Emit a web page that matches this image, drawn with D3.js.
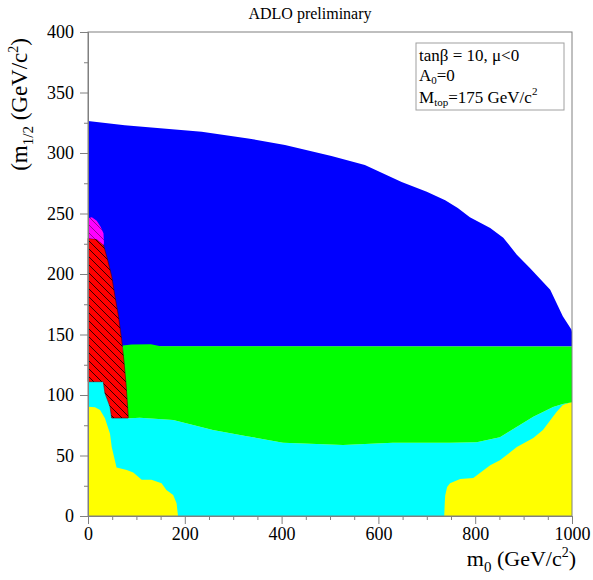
<!DOCTYPE html>
<html><head><meta charset="utf-8">
<script src="https://cdn.jsdelivr.net/npm/d3@7"></script>
<style>body{margin:0;background:#fff}svg{display:block}text{font-family:"Liberation Serif","DejaVu Serif",serif;fill:#000}</style>
</head><body><svg id="c" width="593" height="580"></svg>
<script>
// ---- data (m0, m1/2) in GeV/c^2 ----
const xTicks = [0, 200, 400, 600, 800, 1000];
const yTicks = [0, 50, 100, 150, 200, 250, 300, 350, 400];
const blueTop = [[0,326.4],[76,323],[235,317.6],[331,312],[407,306.6],[503,297.5],[572,290],[648,276],[700,268],[738,261],[764,254.5],[789,247],[831,238],[858,230],[886,216],[913,205],[955,187],[981,165],[999,154],[1000,152]];
const greenTopY = 140;
const greenTopBump = [[72,141],[90,141.8],[130,142],[150,140.3]];
const greenBottom = [[72,81],[87,80.7],[107,81.2],[176,79.3],[258,71],[328,66],[403,60.6],[527,58.7],[630,60.6],[748,60.6],[803,61],[851,65],[920,82],[961,90],[981,92.6],[1000,94]];
const cyanLeftTop = [[0,111],[31.6,111],[35,101.6],[45.5,90.3],[49,82]];
const yellowLeft = [[0,90.3],[14.5,89.8],[25,87.6],[35,80.7],[45.5,68],[49,57],[59,40],[80,38],[93.5,36],[111,30],[131,30],[152,27],[162,21.5],[176,17.4],[183,10.5],[186,0]];
const yellowRight = [[736,0],[737,10],[738,17],[742,24],[748,27],[769,30.6],[796,31.4],[831,42],[851,46],[886,57],[920,64.5],[940,71],[968,86],[981,91.7],[1000,94.5]];
const redRegion = [[0,229.5],[18,228.7],[32,224],[39,214],[49,198],[56,181],[63,165],[69.6,145.5],[74,129],[78.5,109.7],[83,83.5],[83,81],[49,81],[45.5,90.3],[35,101.6],[31.6,111],[0,111]];
const magentaRegion = [[0,229.5],[0,246],[8,247],[18,244],[26,239],[32,233.6],[33,225.6],[32,224],[18,228.7]];

const svg = d3.select("#c");
const L=88, R=572, T=32, B=516;
const x = d3.scaleLinear().domain([0,1000]).range([L,R]);
const y = d3.scaleLinear().domain([0,400]).range([B,T]);
const line = d3.line().x(d=>x(d[0])).y(d=>y(d[1]));
const poly = pts => line(pts) + "Z";

// hatch pattern
const defs = svg.append("defs");
const pat = defs.append("pattern").attr("id","hatch").attr("patternUnits","userSpaceOnUse").attr("width",8).attr("height",8);
pat.append("path").attr("d","M0,0 L8,8 M-2,6 L2,10 M6,-2 L10,2").attr("stroke","#000").attr("stroke-width",0.8);

// cyan
const cyanPts = [[0,0]].concat(cyanLeftTop, greenBottom, [[1000,0]]);
svg.append("path").attr("d",poly(cyanPts)).attr("fill","#00ffff");
// yellow
svg.append("path").attr("d",poly([[0,0]].concat(yellowLeft))).attr("fill","#ffff00");
svg.append("path").attr("d",poly(yellowRight.concat([[1000,0]]))).attr("fill","#ffff00");
// blue
svg.append("path").attr("d",poly([[0,greenTopY]].concat(blueTop,[[1000,greenTopY]]))).attr("fill","#0000ff");
// green
const greenPts = [[72,greenTopY]].concat(greenTopBump,[[1000,greenTopY]], greenBottom.slice().reverse());
svg.append("path").attr("d",poly(greenPts)).attr("fill","#00ff00");
// red + magenta hatched
svg.append("path").attr("d",poly(redRegion)).attr("fill","#ff0000").attr("stroke","#500").attr("stroke-width",0.6);
svg.append("path").attr("d",poly(redRegion)).attr("fill","url(#hatch)");
svg.append("path").attr("d",poly(magentaRegion)).attr("fill","#ff00ff");
svg.append("path").attr("d",poly(magentaRegion)).attr("fill","url(#hatch)").attr("opacity",0.5);

// frame
svg.append("rect").attr("x",L).attr("y",T).attr("width",R-L).attr("height",B-T)
  .attr("fill","none").attr("stroke","#808080").attr("stroke-width",1);

// axes
svg.append("g").attr("transform",`translate(${L},0)`)
  .call(d3.axisLeft(y).tickValues(yTicks).tickSize(8).tickPadding(6).tickFormat(d3.format("d")));
svg.append("g").attr("transform",`translate(${L},0)`)
  .call(d3.axisLeft(y).tickValues(d3.range(25,400,50)).tickSize(4).tickFormat(""));
svg.append("g").attr("transform",`translate(0,${B})`)
  .call(d3.axisBottom(x).tickValues(xTicks).tickSize(8).tickPadding(3).tickFormat(d3.format("d")));
svg.append("g").attr("transform",`translate(0,${B})`)
  .call(d3.axisBottom(x).tickValues(d3.range(50,1000,50).filter(v=>v%200)).tickSize(4).tickFormat(""));
svg.selectAll(".domain").attr("stroke","#808080");
svg.selectAll(".tick line").attr("stroke","#808080");
svg.selectAll(".tick text").attr("font-family","Liberation Serif").attr("font-size",18).attr("fill","#000");

// title
svg.append("text").attr("x",310).attr("y",19).attr("text-anchor","middle").attr("font-size",16).text("ADLO preliminary");

// x label
const xl = svg.append("text").attr("x",576).attr("y",566).attr("text-anchor","end").attr("font-size",22);
xl.append("tspan").text("m");
xl.append("tspan").attr("dy",6).attr("font-size",15).text("0");
xl.append("tspan").attr("dy",-6).text(" (GeV/c");
xl.append("tspan").attr("dy",-9).attr("font-size",14).text("2");
xl.append("tspan").attr("dy",9).text(")");

// y label
const yl = svg.append("text").attr("transform","translate(27,38) rotate(-90)").attr("text-anchor","end").attr("font-size",23);
yl.append("tspan").text("(m");
yl.append("tspan").attr("dy",6).attr("font-size",15).text("1/2");
yl.append("tspan").attr("dy",-6).text(" (GeV/c");
yl.append("tspan").attr("dy",-9).attr("font-size",14).text("2");
yl.append("tspan").attr("dy",9).text(")");

// legend box
svg.append("rect").attr("x",416).attr("y",43).attr("width",148).attr("height",67).attr("fill","#fff").attr("stroke","#a0a0a0");
const lg = svg.append("g").attr("font-size",17);
lg.append("text").attr("x",419).attr("y",61).text("tanβ = 10, μ<0");
const a0 = lg.append("text").attr("x",419).attr("y",81);
a0.append("tspan").text("A");
a0.append("tspan").attr("dy",3).attr("font-size",11).text("0");
a0.append("tspan").attr("dy",-3).text("=0");
const mt = lg.append("text").attr("x",419).attr("y",103);
mt.append("tspan").text("M");
mt.append("tspan").attr("dy",3).attr("font-size",11).text("top");
mt.append("tspan").attr("dy",-3).text("=175 GeV/c");
mt.append("tspan").attr("dy",-8).attr("font-size",11).text("2");
</script></body></html>
